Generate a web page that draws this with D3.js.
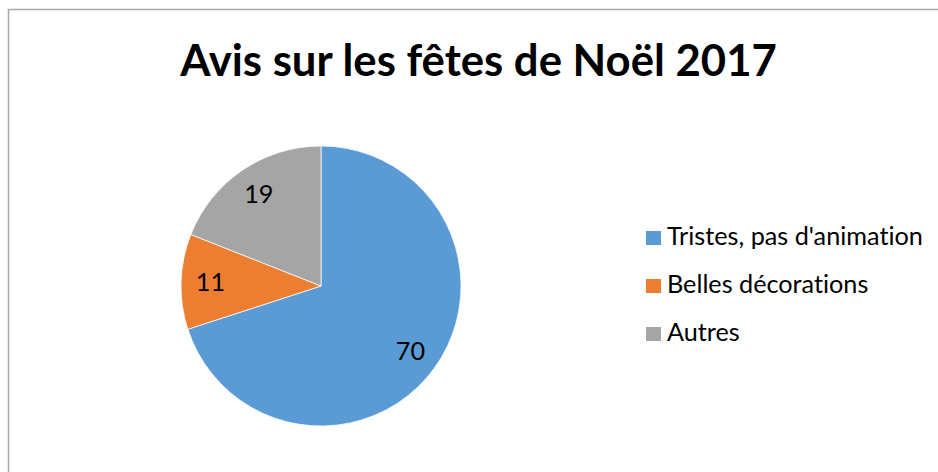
<!DOCTYPE html>
<html>
<head>
<meta charset="utf-8">
<script src="https://cdn.jsdelivr.net/npm/d3@7"></script>
<style>
  html, body { margin: 0; padding: 0; background: #fff; }
  svg { display: block; }
  text { font-variant-ligatures: none; font-feature-settings: "liga" 0, "dlig" 0; }
</style>
</head>
<body>
<svg id="chart" width="938" height="472"></svg>
<script>
// ---- data ----
const titleText = "Avis sur les fêtes de Noël 2017";
const categories = ["Tristes, pas d'animation", "Belles décorations", "Autres"];
const values = [70, 11, 19];
const colors = ["#5B9BD5", "#ED7D31", "#A5A5A5"];

// ---- layout ----
const W = 938, H = 472;
const FONT = "Lato, 'Open Sans', sans-serif";
const svg = d3.select("#chart");

// chart area border (extends beyond the viewport on right & bottom)
svg.append("rect")
  .attr("x", 8.5).attr("y", 9.5)
  .attr("width", 960).attr("height", 500)
  .attr("fill", "#fff")
  .attr("stroke", "#A9A9A9")
  .attr("stroke-width", 1.5);

// fit text helper: adjust font size so the text reaches target width
function fitSize(text, weight, targetWidth, start) {
  const t = svg.append("text").attr("font-family", FONT).attr("font-weight", weight)
    .attr("font-size", start).text(text);
  const w = t.node().getComputedTextLength();
  t.remove();
  return start * targetWidth / w;
}

// title
const titleSize = fitSize(titleText, 700, 597, 40);
svg.append("text")
  .attr("x", 478.5).attr("y", 76)
  .attr("text-anchor", "middle")
  .attr("font-family", FONT).attr("font-weight", 700)
  .attr("font-size", titleSize)
  .attr("fill", "#000")
  .text(titleText);

// pie
const cx = 321, cy = 286, r = 140;
const pie = d3.pie().sort(null).value(d => d)(values);
const arc = d3.arc().innerRadius(0).outerRadius(r);
const g = svg.append("g").attr("transform", `translate(${cx},${cy})`);
g.selectAll("path").data(pie).join("path")
  .attr("d", arc)
  .attr("fill", (d, i) => colors[i])
  .attr("stroke", "#fff")
  .attr("stroke-width", 0.75);

const labelSize = fitSize("Tristes, pas d'animation", 400, 256, 24);
const labelArc = d3.arc().innerRadius(r * 0.79).outerRadius(r * 0.79);
g.selectAll("text.lbl").data(pie).join("text")
  .attr("class", "lbl")
  .attr("transform", d => {
    const [x, y] = labelArc.centroid(d);
    return `translate(${x},${y})`;
  })
  .attr("text-anchor", "middle")
  .attr("dy", "0.35em")
  .attr("font-family", FONT)
  .attr("font-size", labelSize)
  .attr("fill", "#000")
  .text(d => d.data);

// legend
const legY = d3.scalePoint().domain(categories).range([245, 341]);
const leg = svg.append("g");
categories.forEach((c, i) => {
  leg.append("rect")
    .attr("x", 646).attr("y", legY(c) - 14)
    .attr("width", 15).attr("height", 14)
    .attr("fill", colors[i]);
  leg.append("text")
    .attr("x", 667).attr("y", legY(c))
    .attr("font-family", FONT)
    .attr("font-size", labelSize)
    .attr("fill", "#000")
    .text(c);
});
</script>
</body>
</html>
